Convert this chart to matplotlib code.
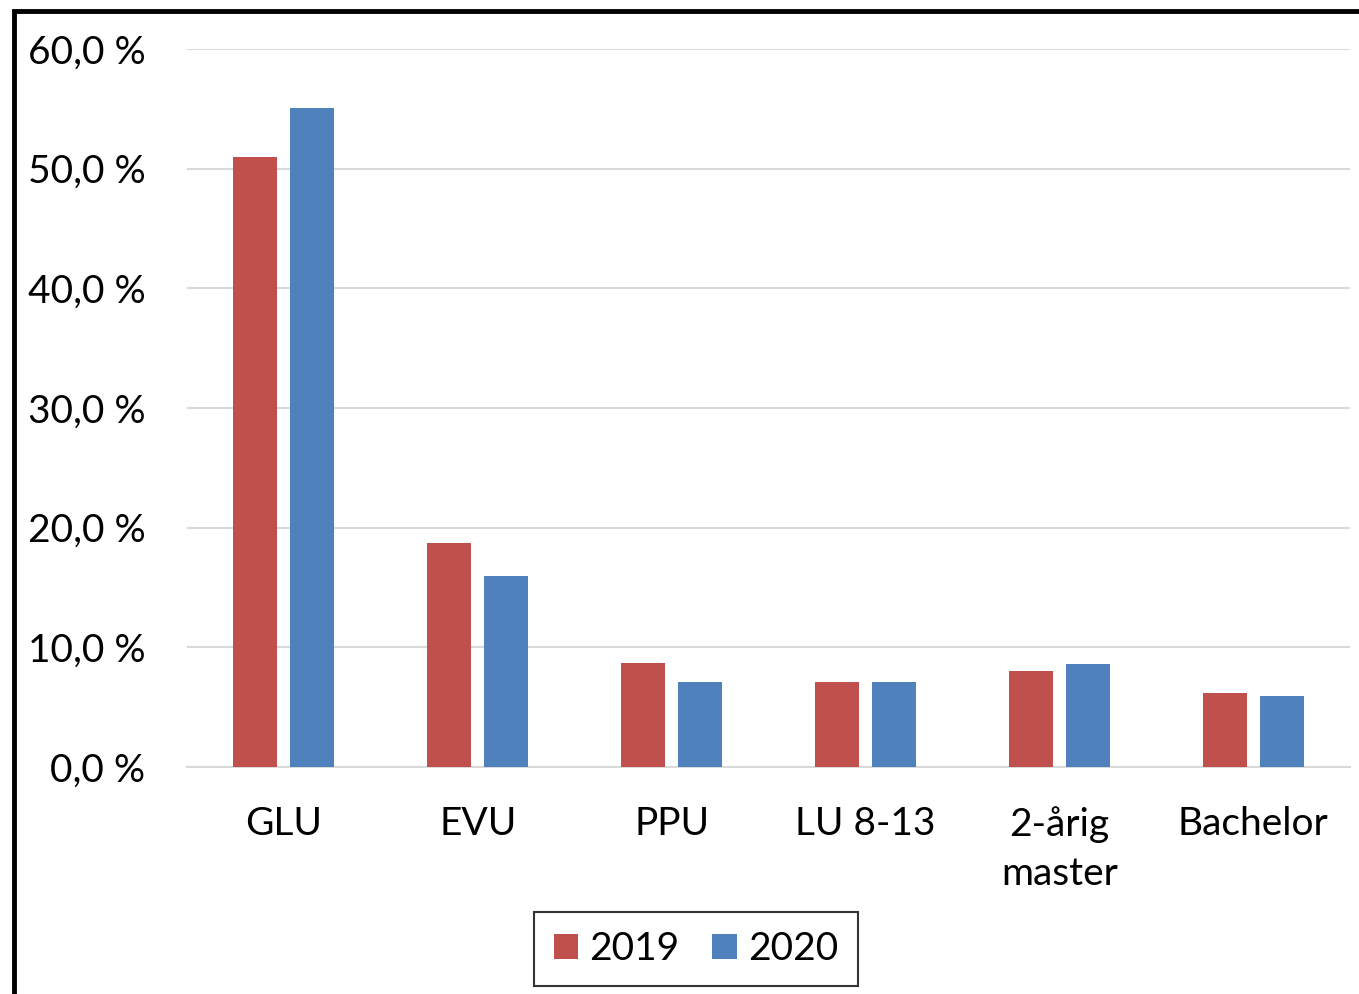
import matplotlib
matplotlib.use('Agg')
import matplotlib.pyplot as plt
from matplotlib.patches import Rectangle
import numpy as np

categories = ['GLU', 'EVU', 'PPU', 'LU 8-13', '2-årig\nmaster', 'Bachelor']
years = ['2019', '2020']
values_2019 = [51.0, 18.7, 8.7, 7.1, 8.0, 6.2]
values_2020 = [55.1, 16.0, 7.1, 7.1, 8.6, 5.9]
yticks = [0, 10, 20, 30, 40, 50, 60]
ytick_labels = ['0,0 %', '10,0 %', '20,0 %', '30,0 %', '40,0 %', '50,0 %', '60,0 %']

red = '#C0504D'
blue = '#4F81BD'
grid = '#D9D9D9'

plt.rcParams['font.family'] = ['Lato', 'DejaVu Sans']

W, H = 1359, 994
fig = plt.figure(figsize=(W / 100, H / 100), dpi=100)
ax = fig.add_axes([187 / W, 1 - 767 / H, (1350 - 187) / W, (767 - 49) / H])

x = np.arange(len(categories))
bw = 0.227
off = 0.147
ax.bar(x - off, values_2019, bw, color=red, label=years[0], zorder=3)
ax.bar(x + off, values_2020, bw, color=blue, label=years[1], zorder=3)

ax.set_xlim(-0.5, len(categories) - 0.5)
ax.set_ylim(0, 60)
ax.set_yticks(yticks)
ax.set_yticklabels(ytick_labels)
ax.set_xticks(x)
ax.set_xticklabels(categories, linespacing=1.45)
ax.yaxis.grid(True, color=grid, linewidth=1.5, zorder=0)
ax.tick_params(axis='both', length=0, labelsize=28, colors='black')
ax.tick_params(axis='y', pad=30)
ax.tick_params(axis='x', pad=28)
for s in ['top', 'right', 'left']:
    ax.spines[s].set_visible(False)
ax.spines['bottom'].set_color(grid)
ax.spines['bottom'].set_linewidth(1.5)

leg = fig.legend(loc='center', bbox_to_anchor=(696 / W, 1 - 949 / H), ncol=2,
                 fontsize=28, frameon=True, fancybox=False, edgecolor='black',
                 handlelength=0.62, handleheight=0.62, handletextpad=0.3,
                 columnspacing=0.85, borderpad=0.5)
leg.get_frame().set_linewidth(1.5)

# outer frame (left and top edges visible)
fig.add_artist(Rectangle((13.5 / W, -0.1), 1.2, (1 - 10.5 / H) + 0.1,
                         transform=fig.transFigure, fill=False,
                         edgecolor='black', linewidth=3.5))

fig.savefig('out.png', dpi=100)
